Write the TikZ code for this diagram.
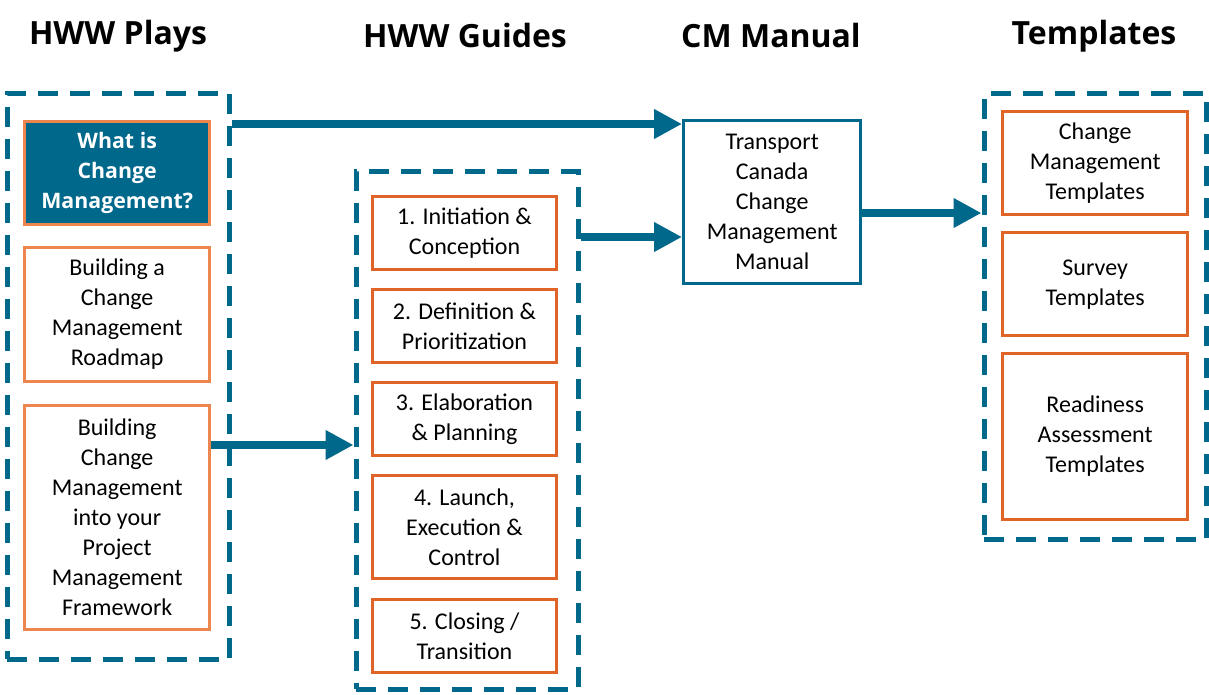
\documentclass[tikz,border=0pt]{standalone}
\usepackage{fontspec}
\setmainfont{Carlito}
\newfontfamily\headfont{Open Sans}
\usetikzlibrary{arrows.meta,calc}
\definecolor{teal}{RGB}{0,104,139}
\definecolor{orlight}{RGB}{236,134,78}
\definecolor{ordark}{RGB}{224,100,40}
\tikzset{
  px/.style={x=0.75pt,y=-0.75pt},
  dashbox/.style={draw=teal,line width=3.75pt,dash pattern=on 15pt off 9pt,inner sep=0pt,anchor=north west},
  playbox/.style={draw=orlight,line width=2.25pt,fill=white,inner sep=0pt,anchor=north west,align=center,font=\fontsize{18}{22.5}\selectfont},
  guidebox/.style={draw=ordark,line width=2.25pt,fill=white,inner sep=0pt,anchor=north west,align=center,font=\fontsize{18}{22.5}\selectfont},
  cmbox/.style={draw=teal,line width=2.25pt,fill=white,inner sep=0pt,anchor=north west,align=center,font=\fontsize{18}{22.5}\selectfont},
  heading/.style={font=\headfont\bfseries\fontsize{24}{28}\selectfont},
  bigarrow/.style={draw=teal,line width=6pt,-{Triangle[length=21pt,width=21pt]}},
}
\begin{document}
\begin{tikzpicture}[px]
\useasboundingbox (0,0) rectangle (1209,695);
% headings
\node[heading] (h1) at (118,36) {HWW Plays};
\node[heading] (h2) at (465,36) {HWW Guides};
\node[heading] (h3) at (771,36) {CM Manual};
\node[heading] (h4) at (1094,36) {Templates};
% dashed groups
\node[dashbox,minimum width=167pt,minimum height=424pt] (plays) at (4.5,91.5) {};
\node[dashbox,minimum width=166.5pt,minimum height=388pt] (guides) at (353.5,169.5) {};
\node[dashbox,minimum width=167pt,minimum height=334pt] (tmpl) at (981.5,91.5) {};
% plays
\node[playbox,fill=teal,text=white,font=\headfont\bfseries\fontsize{16}{22.5}\selectfont,minimum width=139pt,minimum height=77.5pt] (p1) at (23,120) {What is\\Change\\Management?};
\node[playbox,minimum width=139pt,minimum height=100.5pt] (p2) at (23,246) {Building a\\Change\\Management\\Roadmap};
\node[playbox,minimum width=139pt,minimum height=168pt] (p3) at (23,404) {Building\\Change\\Management\\into your\\Project\\Management\\Framework};
% guides
\node[guidebox,minimum width=138pt,minimum height=55pt] (g1) at (371,195) {1. Initiation \&\\Conception};
\node[guidebox,minimum width=138pt,minimum height=55pt] (g2) at (371,288) {2. Definition \&\\Prioritization};
\node[guidebox,minimum width=138pt,minimum height=55pt] (g3) at (371,381) {3. Elaboration\\\& Planning};
\node[guidebox,minimum width=138pt,minimum height=77.5pt] (g4) at (371,474) {4. Launch,\\Execution \&\\Control};
\node[guidebox,minimum width=138pt,minimum height=54.5pt] (g5) at (371,598) {5. Closing /\\Transition};
% CM manual
\node[cmbox,minimum width=133pt,minimum height=122.5pt] (cm) at (682,119) {Transport\\Canada\\Change\\Management\\Manual};
% templates
\node[guidebox,minimum width=139pt,minimum height=77.5pt] (t1) at (1001,110) {Change\\Management\\Templates};
\node[guidebox,minimum width=139pt,minimum height=77.5pt] (t2) at (1001,231) {Survey\\Templates};
\node[guidebox,minimum width=139pt,minimum height=124.5pt] (t3) at (1001,352) {Readiness\\Assessment\\Templates};
% arrows
\coordinate (a1) at (plays.east |- 0,124);
\draw[bigarrow] (a1) -- (a1 -| cm.west);
\coordinate (a2) at (p3.east |- 0,445);
\draw[bigarrow] (a2) -- (a2 -| guides.west);
\coordinate (a3) at (guides.east |- 0,237);
\draw[bigarrow] (a3) -- (a3 -| cm.west);
\coordinate (a4) at (cm.east |- 0,213);
\draw[bigarrow] (a4) -- (a4 -| tmpl.west);
\end{tikzpicture}
\end{document}
